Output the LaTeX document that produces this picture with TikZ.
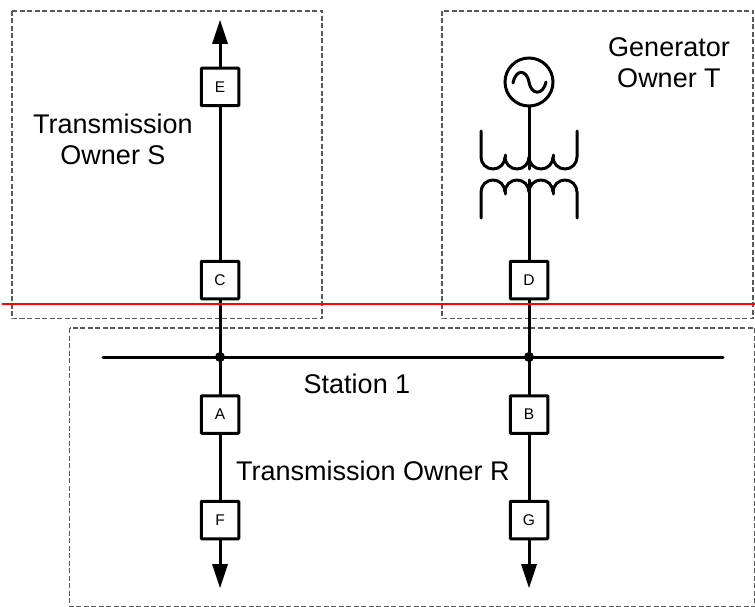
\documentclass[tikz,border=0pt]{standalone}
\usepackage{fontspec}
\setmainfont{Liberation Sans}
\begin{document}
\begin{tikzpicture}[x=1pt,y=-1pt,
 owner/.style={draw=black!65,dash pattern=on 5pt off 2.5pt,line width=1.2pt},
 bus/.style={line width=3pt,black,line cap=round},
 brk/.style={draw=black,line width=3pt,rounded corners=.8pt,fill=white,minimum size=37.5pt,inner sep=0pt,font=\fontsize{15.5}{18}\selectfont},
 lab/.style={font=\fontsize{27}{31}\selectfont,align=center,inner sep=0pt},
 dot/.style={circle,fill=black,minimum size=10pt,inner sep=0pt},
 tipt/.style={fill=black,draw=none},
 coil/.style={line width=3pt,line cap=round,line join=round}]
\useasboundingbox (0,0) rectangle (755,607);
\draw[owner] (12,11) rectangle (322,318.5);
\draw[owner] (442,11) rectangle (753,318.5);
\draw[owner] (69.5,328) rectangle (755,606.5);
\coordinate (t1) at (220,30);\coordinate (b1) at (220,570);
\coordinate (b2) at (529,570);
\coordinate (c1) at (529,169);\coordinate (c2) at (529,180);
\node[dot] (j1) at (220,357) {};
\node[dot] (j2) at (529,357) {};
\draw[bus] (103,357) -- (723,357);
\draw[bus] (t1) -- (b1);
\node[circle,draw=black,line width=3pt,fill=white,minimum size=48pt,inner sep=0pt] (gen) at (529,82) {};
\draw[bus] (gen) -- (c1);
\draw[bus] (c2) -- (b2);
\node[brk] (e) at (220,87) {E};
\node[brk] (c) at (220,280) {C};
\node[brk] (d) at (529,280) {D};
\node[brk] (a) at (220,414.5) {A};
\node[brk] (b) at (529,414.5) {B};
\node[brk] (f) at (220,520) {F};
\node[brk] (g) at (529,520) {G};
\fill[tipt] (220,20) -- (228,44) -- (212,44) -- cycle;
\fill[tipt] (220,588) -- (212,564) -- (228,564) -- cycle;
\fill[tipt] (529,588) -- (521,564) -- (537,564) -- cycle;
\draw[line width=3pt,line cap=round] (513,83) .. controls (516,68) and (527,70) .. (529,82) .. controls (531,95) and (543,96) .. (546,82);
\draw[coil] (481,131) -- (481,157) arc[start angle=180,end angle=0,radius=12] arc[start angle=180,end angle=0,radius=12] arc[start angle=180,end angle=0,radius=12] arc[start angle=180,end angle=0,radius=12] -- (577,131);
\draw[coil] (481,218) -- (481,192) arc[start angle=180,end angle=360,radius=12] arc[start angle=180,end angle=360,radius=12] arc[start angle=180,end angle=360,radius=12] arc[start angle=180,end angle=360,radius=12] -- (577,218);
\draw[coil] (505,157) -- (505,155) (553,157) -- (553,155) (505,192) -- (505,194) (553,192) -- (553,194);
\draw[red,line width=2pt] (2,303.7) -- (755,303.7);
\node[lab] at (113,139.5) {Transmission\\Owner S};
\node[lab] at (669,63) {Generator\\Owner T};
\node[lab] at (357,384) {Station 1};
\node[lab] at (373,471) {Transmission Owner R};
\end{tikzpicture}
\end{document}
